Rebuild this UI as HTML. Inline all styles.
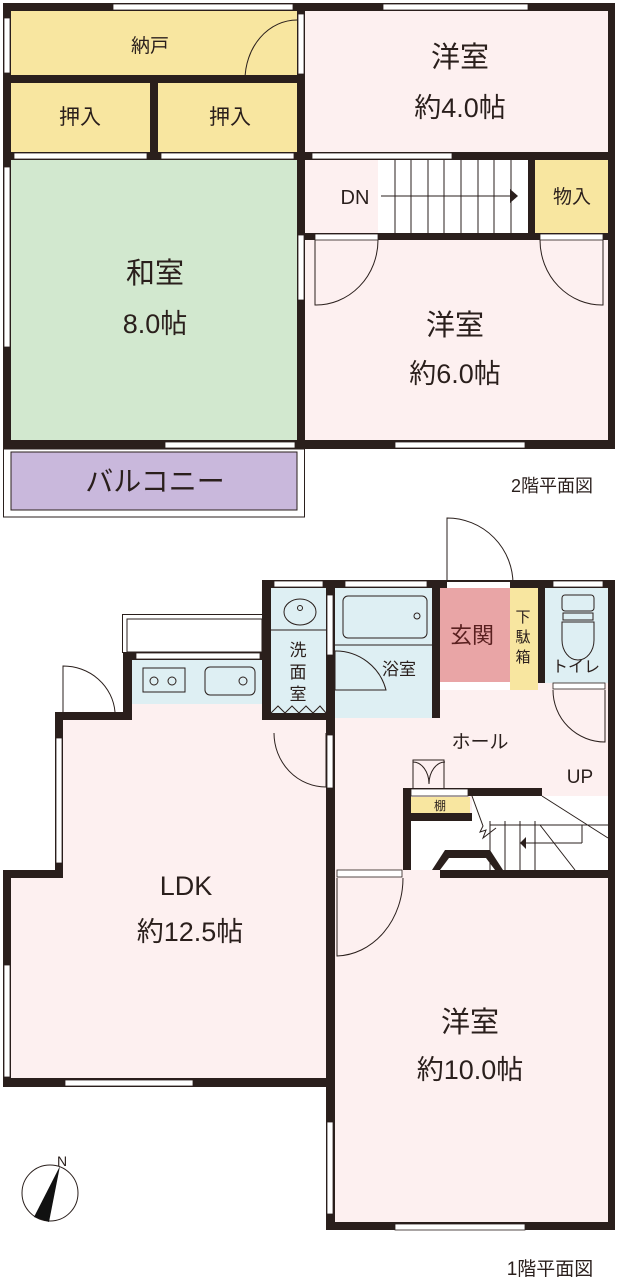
<!DOCTYPE html>
<html><head><meta charset="utf-8"><style>
html,body{margin:0;padding:0;background:#fff;}
svg{display:block;}
text{font-family:"Liberation Sans","Noto Sans CJK JP",sans-serif;fill:#2a1f1c;text-anchor:middle;}
</style></head><body>
<svg width="620" height="1280" viewBox="0 0 620 1280" xmlns="http://www.w3.org/2000/svg">
<!-- ===== 2F ===== -->
<!-- balcony -->
<rect x="3.5" y="449" width="301" height="68" fill="#fff" stroke="#2a1f1c" stroke-width="1"/>
<rect x="11" y="452" width="286" height="58" fill="#c9b8dc" stroke="#2a1f1c" stroke-width="1"/>
<!-- walls base -->
<rect x="3" y="3" width="612" height="446" fill="#2a1f1c"/>
<rect x="11" y="11" width="286" height="64" fill="#f8e6a0"/>
<rect x="11" y="83" width="139" height="69" fill="#f8e6a0"/>
<rect x="158" y="83" width="139" height="69" fill="#f8e6a0"/>
<rect x="11" y="160" width="286" height="280" fill="#d2e8cf"/>
<rect x="305" y="11" width="303" height="141" fill="#fdf0f0"/>
<rect x="305" y="160" width="73" height="73" fill="#fdf0f0"/>
<rect x="378" y="160" width="150" height="73" fill="#fff"/>
<rect x="535" y="160" width="73" height="73" fill="#f8e6a0"/>
<rect x="305" y="240" width="303" height="200" fill="#fdf0f0"/>
<!-- stairs lines -->
<g stroke="#2a1f1c" stroke-width="1">
<line x1="395" y1="160" x2="395" y2="233"/><line x1="411" y1="160" x2="411" y2="233"/><line x1="428" y1="160" x2="428" y2="233"/><line x1="444" y1="160" x2="444" y2="233"/><line x1="461" y1="160" x2="461" y2="233"/><line x1="478" y1="160" x2="478" y2="233"/><line x1="494" y1="160" x2="494" y2="233"/><line x1="511" y1="160" x2="511" y2="233"/>
<line x1="381" y1="196" x2="512" y2="196"/>
</g>
<polygon points="510,189 518,196 510,203" fill="#2a1f1c"/>
<!-- windows 2F -->
<g fill="#fff" stroke="#2a1f1c" stroke-width="0.8">
<rect x="113" y="4" width="180" height="6"/><rect x="383" y="4" width="145" height="6"/>
<rect x="4" y="18" width="6" height="55"/><rect x="4" y="167" width="6" height="180"/>
<rect x="14" y="153" width="133" height="6"/><rect x="161" y="153" width="133" height="6"/>
<rect x="312" y="153" width="140" height="6"/>
<rect x="165" y="442" width="130" height="6"/><rect x="395" y="442" width="130" height="6"/>
<rect x="298" y="235" width="6" height="65"/>
<rect x="298" y="14" width="6" height="60"/>
<rect x="315" y="234" width="63" height="6"/><rect x="540" y="234" width="63" height="6"/>
</g>
<!-- doors 2F -->
<g fill="none" stroke="#2a1f1c" stroke-width="1">
<path d="M297,20 A52,60 0 0 0 245,80 L297,80"/>
<path d="M315,240 L315,305 A62,65 0 0 0 378,240"/>
<path d="M603,240 L603,305 A62,65 0 0 1 540,240"/>
</g>
<!-- 2F text -->
<text x="150" y="52" font-size="19">納戸</text>
<text x="80" y="124" font-size="21">押入</text>
<text x="230" y="124" font-size="21">押入</text>
<text x="460" y="67" font-size="29">洋室</text>
<text x="460" y="117" font-size="27">約4.0帖</text>
<text x="355" y="204" font-size="20">DN</text>
<text x="572" y="203" font-size="19">物入</text>
<text x="155" y="283" font-size="29">和室</text>
<text x="155" y="333" font-size="27">8.0帖</text>
<text x="455" y="335" font-size="29">洋室</text>
<text x="455" y="383" font-size="27">約6.0帖</text>
<text x="155" y="491" font-size="28">バルコニー</text>
<text x="552" y="492" font-size="18">2階平面図</text>

<!-- ===== 1F ===== -->
<!-- entrance door arc -->
<path d="M447,585 L447,518 A66,66 0 0 1 513,585" fill="none" stroke="#2a1f1c" stroke-width="1"/>
<!-- kitchen outline -->
<rect x="122.5" y="614.5" width="140" height="38" fill="#fff" stroke="#2a1f1c" stroke-width="1"/>
<rect x="127" y="619" width="135" height="33" fill="#fff" stroke="#2a1f1c" stroke-width="1"/>
<!-- LDK door outside -->
<path d="M63,712 L63,666 A52,50 0 0 1 115,712" fill="none" stroke="#2a1f1c" stroke-width="1"/>
<!-- wall polygon -->
<path d="M262,580 H615 V1230 H326 V1087 H3 V870 H55 V712 H123 V652 H262 Z" fill="#2a1f1c"/>
<!-- rooms -->
<rect x="271" y="588" width="55" height="125" fill="#deeff3"/>
<rect x="335" y="588" width="97" height="130" fill="#deeff3"/>
<rect x="440" y="588" width="70" height="94" fill="#e9a5a6"/>
<rect x="440" y="682" width="70" height="8" fill="#fff"/>
<rect x="510" y="588" width="28" height="102" fill="#f8e6a0"/>
<rect x="545" y="588" width="63" height="95" fill="#deeff3"/>
<rect x="132" y="660" width="130" height="44" fill="#deeff3"/>
<!-- LDK -->
<path d="M63,720 H262 V720 H326 V1078 H11 V878 H63 Z" fill="#fdf0f0"/>
<rect x="132" y="704" width="130" height="16" fill="#fdf0f0"/>
<!-- hall -->
<path d="M440,690 H538 V683 H608 V870 H541 L528,850 H445 L432,870 H410 V788 H335 V726 H440 Z" fill="#fdf0f0"/>
<rect x="335" y="718" width="105" height="160" fill="#fdf0f0"/>
<rect x="335" y="788" width="68" height="82" fill="#fdf0f0"/>
<!-- shelf block -->
<rect x="403" y="788" width="139" height="8" fill="#2a1f1c"/>
<rect x="403" y="788" width="8" height="82" fill="#2a1f1c"/>
<rect x="411" y="797" width="59" height="16" fill="#f8e6a0"/>
<rect x="411" y="813" width="61" height="8" fill="#2a1f1c"/>
<rect x="472" y="796" width="136" height="74" fill="#fff"/>
<rect x="411" y="821" width="61" height="49" fill="#fff"/>
<polygon points="432,870 445,850 490,850 503,870 495,870 486,858 449,858 440,870" fill="#2a1f1c"/>
<!-- stairs lines -->
<g stroke="#2a1f1c" stroke-width="1" fill="none">
<line x1="490" y1="821" x2="490" y2="870"/><line x1="505" y1="821" x2="505" y2="870"/><line x1="520" y1="821" x2="520" y2="870"/><line x1="535" y1="821" x2="535" y2="870"/>
<line x1="490" y1="825" x2="608" y2="825"/>
<line x1="542" y1="796" x2="608" y2="838"/>
<line x1="540" y1="825" x2="575" y2="870"/>
<line x1="520" y1="843" x2="582" y2="843"/><line x1="582" y1="825" x2="582" y2="843"/>
<path d="M472,796 L483,826 L480,832 L486,830 L483,838 L496,828"/>
</g>
<polygon points="526,837 520,843 526,849" fill="#2a1f1c"/>
<!-- 10.0 room -->
<rect x="335" y="878" width="273" height="344" fill="#fdf0f0"/>
<!-- windows 1F -->
<g fill="#fff" stroke="#2a1f1c" stroke-width="0.8">
<rect x="274" y="581" width="49" height="6"/><rect x="345" y="581" width="82" height="6"/><rect x="553" y="581" width="50" height="6"/>
<rect x="136" y="653" width="124" height="6"/>
<rect x="56" y="738" width="6" height="125"/>
<rect x="4" y="965" width="6" height="112"/>
<rect x="65" y="1080" width="128" height="6"/>
<rect x="327" y="1122" width="6" height="92"/>
<rect x="395" y="1224" width="130" height="6"/>
<rect x="447" y="582" width="63" height="6" stroke="none"/>
<rect x="327" y="735" width="6" height="53"/>
<rect x="327" y="595" width="6" height="60"/>
<rect x="337" y="870" width="65" height="7"/>
<rect x="553" y="683" width="52" height="6"/>
<rect x="411" y="789" width="57" height="7"/>
</g>
<!-- fixtures -->
<g fill="none" stroke="#2a1f1c" stroke-width="1">
<rect x="343" y="596" width="84" height="42" rx="5"/>
<circle cx="417" cy="616" r="3"/>
<line x1="335" y1="645" x2="432" y2="645"/>
<line x1="271" y1="630" x2="326" y2="630"/>
<ellipse cx="300" cy="612" rx="16" ry="13"/><circle cx="300" cy="608" r="2.5"/>
<rect x="143" y="668" width="42" height="24"/>
<circle cx="154" cy="681" r="4"/><circle cx="172" cy="681" r="4"/>
<rect x="205" y="667" width="50" height="28" rx="5"/><circle cx="243" cy="681" r="4"/>
<rect x="562" y="595" width="32" height="16" rx="3"/>
<rect x="563" y="613" width="30" height="7"/>
<path d="M562,622 L594,622 L594,640 A16,20 0 1 1 562,640 Z"/>
<path d="M271,713 L278,706 L285,713 L292,706 L299,713 L306,706 L313,713 L320,706 L326,713"/>
<!-- doors -->
<path d="M335,690 L335,651 A52,52 0 0 1 386,690 Z"/>
<path d="M326,733 L326,787 A52,54 0 0 1 274,733"/>
<path d="M605,690 L605,742 A52,52 0 0 1 553,690"/>
<path d="M337,878 L337,956 A68,78 0 0 0 403,878"/>
<path d="M413,788 L413,760 L444,760 L444,788"/>
<path d="M413,762 A16,22 0 0 1 429,784 A16,22 0 0 1 445,762"/>
</g>
<!-- 1F text -->
<text x="298" y="656" font-size="17">洗</text>
<text x="298" y="678" font-size="17">面</text>
<text x="298" y="700" font-size="17">室</text>
<text x="399" y="675" font-size="17">浴室</text>
<text x="472" y="643" font-size="22" style="fill:#5a2020">玄関</text>
<text x="523" y="622" font-size="15">下</text>
<text x="523" y="642" font-size="15">駄</text>
<text x="523" y="662" font-size="15">箱</text>
<text x="576" y="672" font-size="16">トイレ</text>
<text x="480" y="748" font-size="19">ホール</text>
<text x="580" y="783" font-size="19">UP</text>
<text x="440" y="810" font-size="12">棚</text>
<text x="186" y="895" font-size="27">LDK</text>
<text x="190" y="941" font-size="27">約12.5帖</text>
<text x="470" y="1032" font-size="29">洋室</text>
<text x="470" y="1079" font-size="27">約10.0帖</text>
<text x="550" y="1275" font-size="19">1階平面図</text>
<!-- compass -->
<g>
<circle cx="50" cy="1193" r="28" fill="#fff" stroke="#2a1f1c" stroke-width="1"/>
<polygon points="60,1166 34,1217 49,1222" fill="#111"/>
<text x="62" y="1166" font-size="14">N</text>
</g>
</svg>
</body></html>
